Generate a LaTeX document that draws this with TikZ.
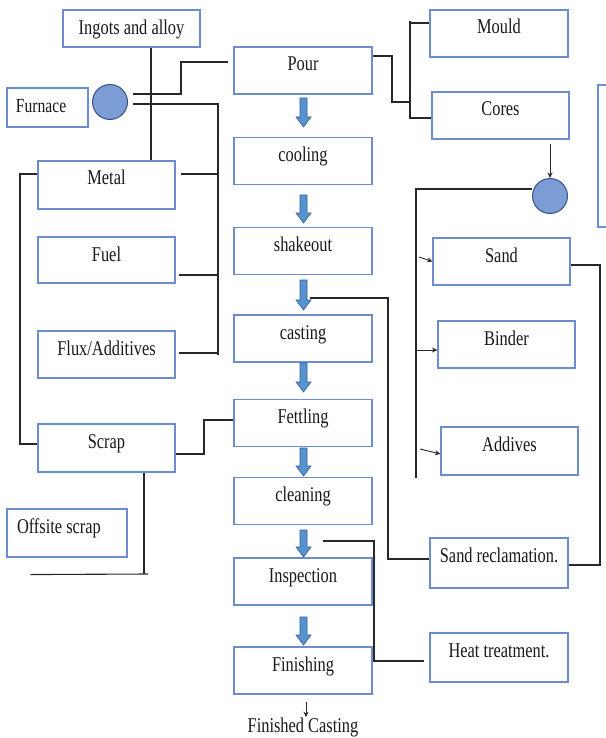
\documentclass[tikz,border=0pt]{standalone}
\usepackage{fontspec}
\setmainfont{Liberation Serif}[FakeStretch=0.78]
\usetikzlibrary{backgrounds,arrows.meta}
\definecolor{boxblue}{RGB}{108,142,208}
\definecolor{circfill}{RGB}{124,156,214}
\definecolor{circedge}{RGB}{58,82,130}
\definecolor{arrfill}{RGB}{86,148,208}
\definecolor{arredge}{RGB}{52,92,150}
\definecolor{linecol}{RGB}{40,40,40}
\begin{document}
\begin{tikzpicture}[x=1pt,y=-1pt,
  box/.style={draw=boxblue, line width=1.1pt, rectangle, inner sep=0pt,
    minimum width=138pt, text height=24pt, text depth=23pt,
    font=\fontsize{21pt}{24pt}\selectfont, text=black!90, align=center},
  lbox/.style={box, minimum width=0pt, align=flush left},
  circ/.style={circle, fill=circfill, draw=circedge, line width=1pt,
    minimum size=35pt, inner sep=0pt},
  conn/.style={draw=linecol, line width=1.1pt},
  sarrow/.style={draw=linecol, line width=0.9pt, -{Stealth[length=5.5pt,width=5pt]}},
  arrowblk/.style={fill=arrfill, draw=arredge, line width=0.6pt}
]
\useasboundingbox (0,0) rectangle (605,738);

% left column
\node[box, minimum width=137pt, text height=25pt, text depth=12pt] (ingots) at (131.5,28.5) {Ingots and alloy};
\node[lbox, text width=63pt, inner xsep=9pt, text height=25pt, text depth=14pt, font=\fontsize{20pt}{22pt}\selectfont] (furnace) at (47.5,107.5) {Furnace};
\node[circ] (fc) at (110,102) {};
\node[box, minimum width=137pt, text depth=24pt] (metal) at (106.5,185) {Metal};
\node[box, minimum width=137pt, text depth=22pt] (fuel) at (106.5,260) {Fuel};
\node[box, minimum width=137pt] (flux) at (106.5,354.5) {Flux/Additives};
\node[box, minimum width=137pt, text depth=24pt] (scrap) at (106.5,448) {Scrap};
\node[lbox, text width=100pt, inner xsep=10pt, text depth=24pt] (offsite) at (67,533) {Offsite scrap};

% central column
\node[box] (pour) at (303,70.5) {Pour};
\node[box] (cooling) at (303,161) {cooling};
\node[box] (shakeout) at (303,251) {shakeout};
\node[box] (casting) at (303,338.5) {casting};
\node[box] (fettling) at (303,423) {Fettling};
\node[box] (cleaning) at (303,501) {cleaning};
\node[box] (inspection) at (303,581.5) {Inspection};
\node[box] (finishing) at (303,670.5) {Finishing};
\node[font=\fontsize{21pt}{24pt}\selectfont, text=black!90, inner sep=0pt, anchor=base] (fin) at (303,732) {Finished Casting};

% right column
\node[box] (mould) at (499,33.5) {Mould};
\node[box, minimum width=137pt] (cores) at (500.5,115.5) {Cores};
\node[circ] (c2) at (550,196) {};
\node[box, minimum width=137pt] (sand) at (501.5,261.5) {Sand};
\node[box, minimum width=137pt] (binder) at (506.5,344.5) {Binder};
\node[box, minimum width=137pt, text depth=24pt] (addives) at (509.5,451) {Addives};
\node[box, text depth=26pt] (sandrec) at (499,563) {Sand reclamation.};
\node[box, text depth=25pt] (heat) at (499,657.5) {Heat treatment.};
\draw[draw=boxblue, line width=1.1pt] (606,85) -- (598,85) -- (598,227) -- (606,227);

% block arrows of the main flow
\foreach \ya/\yb in {98/127,195/223,280/310,363/392,448/476,530/557,617/645}
  \filldraw[arrowblk] (300,\ya) -- (307,\ya) -- (307,\yb-10) -- (311,\yb-10)
    -- (303.5,\yb) -- (296,\yb-10) -- (300,\yb-10) -- cycle;

\begin{scope}[on background layer]
\fill[white] (0,0) rectangle (605,738);
% furnace connections
\draw[conn] ([shift={(23,-8)}]fc.center) -- (181,94) -- (181,62) -- ([xshift=-5pt]pour.west |- 0,62);
\draw[conn] ([shift={(23,2)}]fc.center) -- (218,104) -- (218,355);
\draw[conn] (ingots.south -| 151,0) -- (metal.north -| 151,0);
\draw[conn] ([xshift=5pt]metal.east |- 0,174) -- (218,174);
\draw[conn] ([xshift=3pt]fuel.east |- 0,275) -- (218,275);
\draw[conn] ([xshift=3pt]flux.east |- 0,353) -- (218,353);
\draw[conn] (metal.west |- 0,174) -- (20,174) -- (20,444) -- (scrap.west |- 0,444);
\draw[conn] (scrap.east |- 0,454) -- (204,454) -- (204,420) -- (fettling.west |- 0,420);
\draw[conn] (scrap.south -| 144,0) -- (144,574);
\draw[conn] ([shift={(24,17)}]offsite.south west) -- (148,574);
% pour to mould and cores
\draw[conn] (pour.east |- 0,56) -- (392,56) -- (392,102) -- (410,102);
\draw[conn] (410,21) -- (410,119);
\draw[conn] (410,23) -- (mould.west |- 0,23);
\draw[conn] (410,118) -- (cores.west |- 0,118);
% sand preparation
\draw[sarrow] (cores.south -| 550,0) ++(0,4) -- (c2.north);
\draw[conn] (c2.west |- 0,189) -- (416,189) -- (416,478);
\draw[sarrow] (419,257) -- (sand.west);
\draw[sarrow] (416,350) -- (binder.west |- 0,350);
\draw[sarrow] (420,449) -- (addives.west |- 0,454);
\draw[conn] (sand.east |- 0,265) -- (600,265) -- (600,565) -- (sandrec.east |- 0,565);
\draw[conn] (310,298) -- (388,298) -- (388,559) -- (sandrec.west |- 0,559);
\draw[conn] (323,541) -- (374,541) -- (374,661) -- ([xshift=-5pt]heat.west |- 0,661);
\draw[sarrow] (306,702) -- (fin.north -| 306,0);
\end{scope}
\end{tikzpicture}
\end{document}
